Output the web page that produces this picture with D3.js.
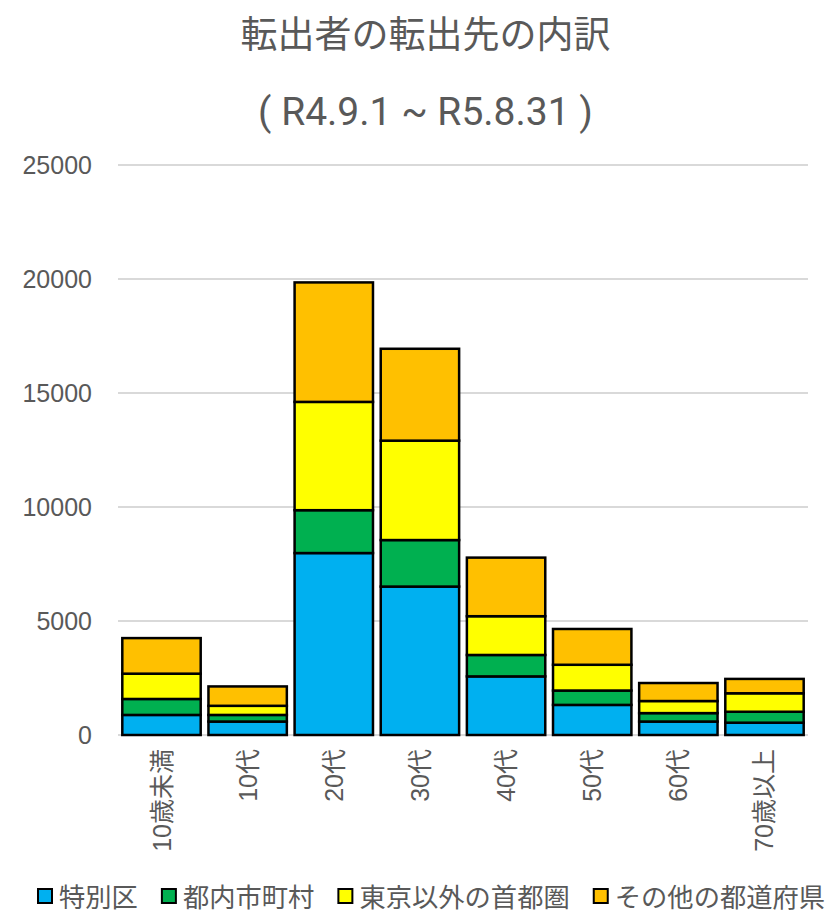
<!DOCTYPE html>
<html>
<head>
<meta charset="utf-8">
<script src="https://cdn.jsdelivr.net/npm/d3@7"></script>
<style>
  html, body { margin: 0; padding: 0; background: #fff; }
  svg { display: block; }
</style>
</head>
<body>
<svg id="chart" width="831" height="914"></svg>
<script>
// Age groups (x axis)
const categories = ["10歳未満", "10代", "20代", "30代", "40代", "50代", "60代", "70歳以上"];
// Destination series, stacked bottom to top
const seriesNames = ["特別区", "都内市町村", "東京以外の首都圏", "その他の都道府県"];
const seriesColors = ["#00B0F0", "#00B050", "#FFFF00", "#FFC000"];
const tokubetsuku = [880, 590, 7980, 6510, 2570, 1320, 590, 540];
const tonaiShichoson = [700, 290, 1880, 2040, 940, 630, 370, 480];
const shutoken = [1110, 400, 4750, 4360, 1700, 1130, 530, 810];
const sonota = [1560, 850, 5240, 4030, 2570, 1570, 790, 630];
const yTicks = [0, 5000, 10000, 15000, 20000, 25000];

const titleText = "転出者の転出先の内訳";
const subtitleText = "( R4.9.1 ~ R5.8.31 )";

const svg = d3.select("#chart");
const W = 831;
const textColor = "#595959";
const cjk = "'Noto Sans CJK JP', 'Noto Sans', sans-serif";
const latin = "'Liberation Sans', Arial, 'Noto Sans CJK JP', sans-serif";

const plot = { left: 118, right: 808, top: 165, bottom: 735 };

const rows = categories.map((c, i) => ({
  cat: c,
  s0: tokubetsuku[i], s1: tonaiShichoson[i], s2: shutoken[i], s3: sonota[i]
}));
const stacked = d3.stack().keys(["s0", "s1", "s2", "s3"])(rows);

const x = d3.scaleBand()
  .domain(categories)
  .range([plot.left, plot.right])
  .paddingInner(0.09)
  .paddingOuter(0.05);

const y = d3.scaleLinear()
  .domain([0, 25000])
  .range([plot.bottom, plot.top]);

// Titles
svg.append("text")
  .attr("x", W / 2 + 10).attr("y", 48)
  .attr("text-anchor", "middle")
  .attr("fill", textColor)
  .style("font-family", "Roboto, " + cjk)
  .style("font-size", "37px")
  .text(titleText);

svg.append("text")
  .attr("x", W / 2 + 10).attr("y", 125)
  .attr("text-anchor", "middle")
  .attr("fill", textColor)
  .style("font-family", "Roboto, " + cjk)
  .style("font-size", "39px")
  .text(subtitleText);

// Gridlines
svg.append("g")
  .selectAll("line")
  .data(yTicks)
  .join("line")
  .attr("x1", plot.left).attr("x2", plot.right)
  .attr("y1", d => y(d)).attr("y2", d => y(d))
  .attr("stroke", "#D9D9D9")
  .attr("stroke-width", 2);

// Y axis labels
const yAxis = d3.axisLeft(y).tickValues(yTicks).tickFormat(d3.format("d")).tickSize(0).tickPadding(0);
const yG = svg.append("g")
  .attr("transform", `translate(${plot.left - 26},0)`)
  .call(yAxis);
yG.select(".domain").remove();
yG.selectAll("text")
  .attr("fill", textColor)
  .style("font-family", latin)
  .style("font-size", "25px");

// Stacked bars
svg.append("g")
  .selectAll("g")
  .data(stacked)
  .join("g")
  .attr("fill", (d, i) => seriesColors[i])
  .selectAll("rect")
  .data(d => d)
  .join("rect")
  .attr("x", d => x(d.data.cat))
  .attr("width", x.bandwidth())
  .attr("y", d => y(d[1]))
  .attr("height", d => y(d[0]) - y(d[1]))
  .attr("stroke", "#000")
  .attr("stroke-width", 2.5);

// X axis labels (rotated)
const xAxis = d3.axisBottom(x).tickSize(0).tickPadding(0);
const xG = svg.append("g")
  .attr("transform", `translate(0,${plot.bottom})`)
  .call(xAxis);
xG.select(".domain").remove();
xG.selectAll("text")
  .attr("fill", textColor)
  .style("font-family", latin)
  .style("font-size", "25px")
  .attr("text-anchor", "end")
  .attr("dy", null)
  .attr("dominant-baseline", "central")
  .attr("transform", "translate(0,14) rotate(-90)");

// Legend
const legend = svg.append("g");
let lx = 0;
const items = legend.selectAll("g")
  .data(seriesNames)
  .join("g");
items.append("rect")
  .attr("x", 0).attr("y", -6)
  .attr("width", 14).attr("height", 14)
  .attr("fill", (d, i) => seriesColors[i])
  .attr("stroke", "#000")
  .attr("stroke-width", 2);
items.append("text")
  .attr("x", 21).attr("y", 0)
  .attr("dominant-baseline", "central")
  .attr("fill", textColor)
  .style("font-family", cjk)
  .style("font-size", "26.3px")
  .text(d => d);
items.each(function () {
  const g = d3.select(this);
  g.attr("transform", `translate(${lx},0)`);
  const tw = g.select("text").node().getComputedTextLength();
  lx += 21 + tw + 24;
});
legend.attr("transform", "translate(38,895)");
</script>
</body>
</html>
